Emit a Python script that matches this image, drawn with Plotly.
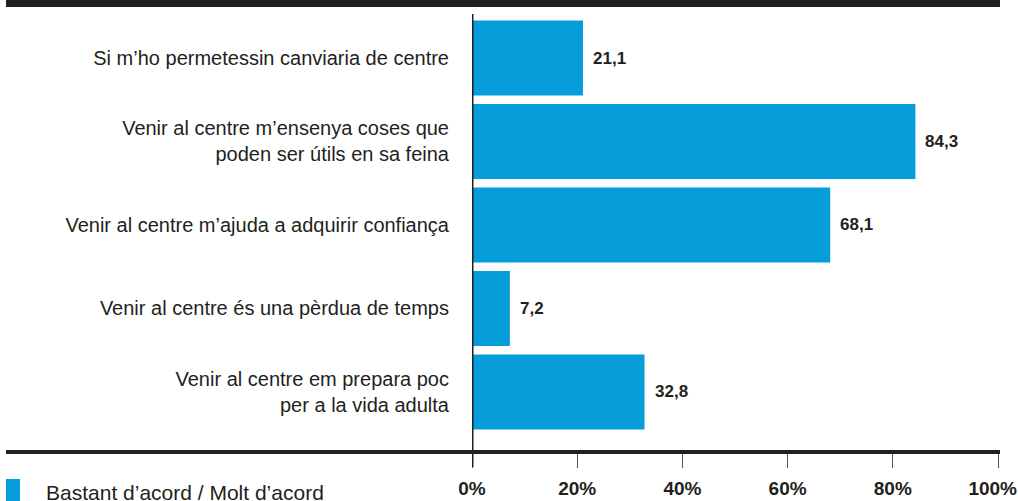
import plotly.graph_objects as go

categories = [
    "Si m’ho permetessin canviaria de centre",
    "Venir al centre m’ensenya coses que<br>poden ser útils en sa feina",
    "Venir al centre m’ajuda a adquirir confiança",
    "Venir al centre és una pèrdua de temps",
    "Venir al centre em prepara poc<br>per a la vida adulta",
]
values = [21.1, 84.3, 68.1, 7.2, 32.8]
value_labels = ["21,1", "84,3", "68,1", "7,2", "32,8"]
tick_vals = [0, 20, 40, 60, 80, 100]
tick_text = ["0%", "20%", "40%", "60%", "80%", "100%"]
series_name = "Bastant d’acord / Molt d’acord"

BLUE = "#069ddb"
DARK = "#231f20"
FONT = "Liberation Sans, Arial, sans-serif"

W, H = 1018, 501
L, R, T, B = 472, 20, 14, 49
pw = W - L - R
ph = H - T - B

def px_x(x):
    return (x - L) / pw

def px_y(y):
    return (H - B - y) / ph

# the last tick label is nudged left (padded) so it stays inside the page, as in the reference
shown_ticks = tick_text[:-1] + [tick_text[-1] + "\u00a0\u00a0"]

fig = go.Figure()
fig.add_trace(go.Bar(
    y=categories, x=values, orientation="h",
    marker=dict(color=BLUE, line=dict(width=0)),
    width=0.9, showlegend=False, hoverinfo="skip",
))

for c, v, t in zip(categories, values, value_labels):
    fig.add_annotation(x=v, y=c, xref="x", yref="y", text="<b>" + t + "</b>",
                       showarrow=False, xanchor="left", xshift=8,
                       font=dict(family=FONT, size=17, color=DARK))

shapes = []
# top band
shapes.append(dict(type="rect", xref="paper", yref="paper",
                   x0=px_x(6), x1=px_x(1000), y0=px_y(7), y1=px_y(0),
                   fillcolor=DARK, line=dict(width=0), layer="above"))
# horizontal base line
shapes.append(dict(type="line", xref="paper", yref="paper",
                   x0=px_x(6), x1=px_x(1000), y0=0, y1=0,
                   line=dict(color=DARK, width=4), layer="above"))
# vertical zero line
shapes.append(dict(type="line", xref="x", yref="paper",
                   x0=0, x1=0, y0=1, y1=px_y(467),
                   line=dict(color=DARK, width=3), layer="above"))
# legend square
shapes.append(dict(type="rect", xref="paper", yref="paper",
                   x0=px_x(6), x1=px_x(20), y0=px_y(501), y1=px_y(479),
                   fillcolor=BLUE, line=dict(width=0), layer="above"))
fig.update_layout(shapes=shapes)

fig.add_annotation(xref="paper", yref="paper", x=px_x(44), y=px_y(492),
                   text=series_name, showarrow=False, xanchor="left", yanchor="middle",
                   font=dict(family=FONT, size=21, color=DARK))

fig.update_layout(
    width=W, height=H,
    margin=dict(l=L, r=R, t=T, b=B, pad=0, autoexpand=False),
    paper_bgcolor="white", plot_bgcolor="white",
    bargap=0.1,
    xaxis=dict(range=[0, 100], tickvals=tick_vals, ticktext=shown_ticks,
               showgrid=False, zeroline=False, showline=False,
               ticks="outside", ticklen=15, tickwidth=1, tickcolor="#555555",
               ticklabelstandoff=4, ticklabeloverflow="allow", automargin=False,
               tickfont=dict(family=FONT, size=19, color=DARK, weight="bold"),
               fixedrange=True),
    yaxis=dict(range=[4.719, -0.527], showgrid=False, zeroline=False,
               showline=False, ticks="", ticklabelstandoff=22, automargin=False,
               tickfont=dict(family=FONT, size=20, color=DARK),
               fixedrange=True),
)

fig.write_html("out.html", config={"displayModeBar": False},
               post_script="document.body.style.margin='0';document.body.style.overflow='hidden';")
